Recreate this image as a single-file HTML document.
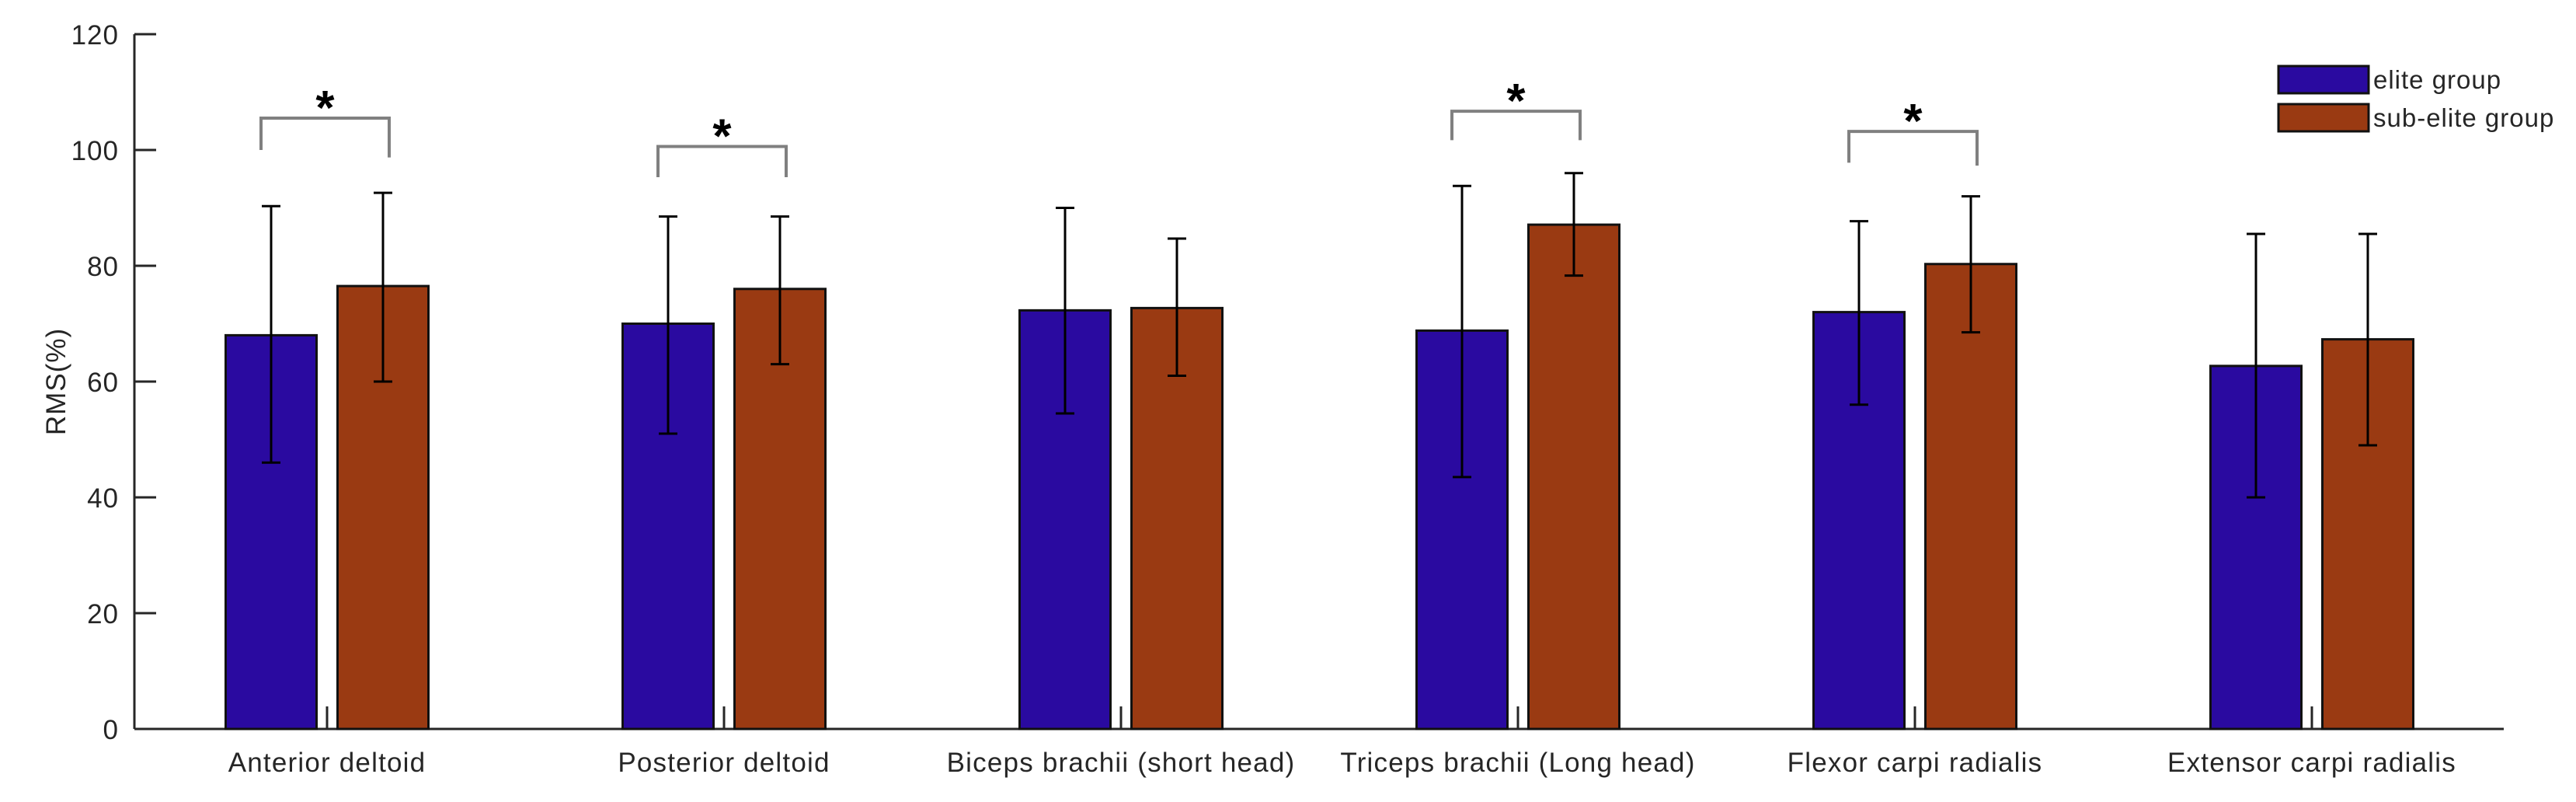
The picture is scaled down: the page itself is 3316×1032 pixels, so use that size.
<!DOCTYPE html>
<html><head><meta charset="utf-8"><style>
html,body{margin:0;padding:0;background:#fff;}
svg{display:block;font-family:"Liberation Sans",Arial,sans-serif;}
</style></head><body>
<svg id="chart" width="3316" height="1032" viewBox="0 0 3316 1032" xmlns="http://www.w3.org/2000/svg">
<text x="0" y="0" transform="translate(84,491) rotate(-90)" text-anchor="middle" font-size="35" letter-spacing="1" fill="#262626">RMS(%)</text>
<g>
<rect x="2933" y="85" width="116" height="35" fill="#2a0aa0" stroke="#111" stroke-width="3"/>
<text x="3055" y="114" font-size="33" letter-spacing="1" fill="#262626">elite group</text>
<rect x="2933" y="134" width="116" height="35" fill="#9a3a12" stroke="#111" stroke-width="3"/>
<text x="3055" y="163" font-size="33" letter-spacing="1" fill="#262626">sub-elite group</text>
</g>
</svg>
<script>
const categories = ["Anterior deltoid","Posterior deltoid","Biceps brachii (short head)","Triceps brachii (Long head)","Flexor carpi radialis","Extensor carpi radialis"];
const eliteMean = [68, 70, 72.3, 68.8, 72, 62.7];
const eliteLow = [46, 51, 54.5, 43.5, 56, 40];
const eliteHigh = [90.3, 88.5, 90, 93.8, 87.7, 85.5];
const subMean = [76.5, 76, 72.7, 87.1, 80.3, 67.3];
const subLow = [60, 63, 61, 78.3, 68.5, 49];
const subHigh = [92.6, 88.5, 84.7, 96, 92, 85.5];
const sigBracket = [105.5, 100.6, null, 106.7, 103.2, null];
const sigLegLeft = [100, 95.3, null, 101.7, 97.8, null];
const sigLegRight = [98.7, 95.3, null, 101.7, 97.3, null];
const yTicks = [0, 20, 40, 60, 80, 100, 120];

const NS = "http://www.w3.org/2000/svg";
const svg = document.getElementById("chart");
const X0 = 173, X1 = 3223, Y0 = 938, Y120 = 44;
function y(v){ return Y0 - (v/120)*(Y0-Y120); }
function xc(i){ return 421 + i*511; }
function mk(tag, attrs, parent){
  const e = document.createElementNS(NS, tag);
  for (const k in attrs) e.setAttribute(k, attrs[k]);
  (parent||svg).appendChild(e);
  return e;
}
const BW = 117, OFF = 72;

let ax = mk("line",{x1:X0,y1:Y120,x2:X0,y2:Y0,stroke:"#262626","stroke-width":3});


let bx = mk("line",{x1:X0,y1:Y0,x2:X1,y2:Y0,stroke:"#262626","stroke-width":3});


yTicks.forEach(t=>{
  const l = mk("line",{x1:X0,y1:y(t),x2:X0+28,y2:y(t),stroke:"#262626","stroke-width":3});
  
  
  const tx = mk("text",{x:153,y:y(t)+13,"text-anchor":"end","font-size":35,"letter-spacing":1,fill:"#262626"});
  tx.textContent = t;
  
  
});

function errbar(cx, lo, hi, name){
  const g = mk("g",{stroke:"#000","stroke-width":3});
  
  
  mk("line",{x1:cx,y1:y(lo),x2:cx,y2:y(hi)},g);
  mk("line",{x1:cx-12,y1:y(lo),x2:cx+12,y2:y(lo)},g);
  mk("line",{x1:cx-12,y1:y(hi),x2:cx+12,y2:y(hi)},g);
}

categories.forEach((c,i)=>{
  const cx = xc(i);
  const b1 = mk("rect",{x:cx-OFF-BW/2,y:y(eliteMean[i]),width:BW,height:Y0-y(eliteMean[i]),fill:"#2a0aa0",stroke:"#111","stroke-width":3});
  
  
  const b2 = mk("rect",{x:cx+OFF-BW/2,y:y(subMean[i]),width:BW,height:Y0-y(subMean[i]),fill:"#9a3a12",stroke:"#111","stroke-width":3});
  
  
  errbar(cx-OFF, eliteLow[i], eliteHigh[i], 'error-bar-elite');
  errbar(cx+OFF, subLow[i], subHigh[i], 'error-bar-sub-elite');
  const tk = mk("line",{x1:cx,y1:Y0,x2:cx,y2:Y0-29,stroke:"#262626","stroke-width":3});
  
  
  const lb = mk("text",{x:cx,y:993,"text-anchor":"middle","font-size":35,"letter-spacing":1.2,fill:"#262626"});
  lb.textContent = c;
  
  
  if (sigBracket[i] !== null){
    const L = cx-85, R = cx+80;
    const br = mk("polyline",{points:`${L},${y(sigLegLeft[i])} ${L},${y(sigBracket[i])} ${R},${y(sigBracket[i])} ${R},${y(sigLegRight[i])}`,fill:"none",stroke:"#808080","stroke-width":4});
    
    
    const st = mk("text",{x:(L+R)/2,y:y(sigBracket[i])+8,"text-anchor":"middle","font-size":62,"font-weight":"bold",fill:"#000"});
    st.textContent = "*";
    
    
  }
});
</script>
</body></html>
